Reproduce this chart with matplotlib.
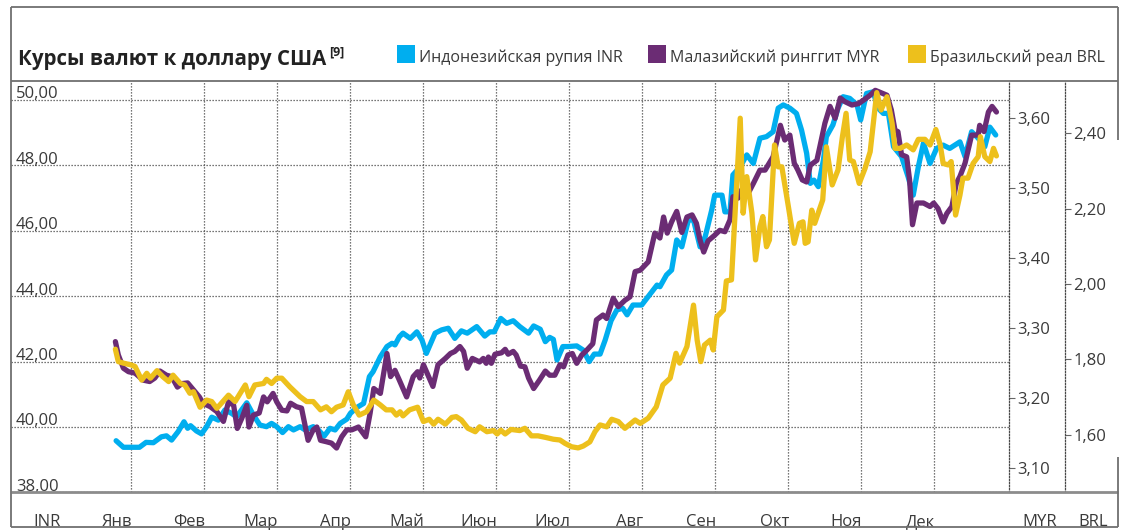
import matplotlib
matplotlib.use("Agg")
import matplotlib.pyplot as plt
from matplotlib.lines import Line2D
from matplotlib.patches import Rectangle
import matplotlib.transforms as mtransforms

plt.rcParams['font.family'] = ['Open Sans', 'DejaVu Sans']

# ---------------- data (x = month position, 0 = start of January) ----------------
months = ['Янв', 'Фев', 'Мар', 'Апр', 'Май', 'Июн', 'Июл', 'Авг', 'Сен', 'Окт', 'Ноя', 'Дек']
title = 'Курсы валют к доллару США'
legend_labels = ['Индонезийская рупия INR', 'Малазийский ринггит MYR', 'Бразильский реал BRL']

inr_ticks = [38, 40, 42, 44, 46, 48, 50]
myr_ticks = [3.10, 3.20, 3.30, 3.40, 3.50, 3.60]
brl_ticks = [1.60, 1.80, 2.00, 2.20, 2.40]

inr_t = [-0.20, -0.10, 0.12, 0.21, 0.31, 0.42, 0.49, 0.56, 0.65, 0.73,
         0.78, 0.82, 0.90, 0.97, 1.04, 1.11, 1.20, 1.29, 1.38, 1.45,
         1.59, 1.68, 1.77, 1.86, 1.93, 2.00, 2.08, 2.16, 2.23, 2.32,
         2.39, 2.50, 2.57, 2.65, 2.73, 2.80, 2.87, 2.96, 3.01, 3.10,
         3.19, 3.27, 3.32, 3.42, 3.51, 3.58, 3.62, 3.68, 3.73, 3.83,
         3.92, 3.99, 4.05, 4.17, 4.26, 4.35, 4.44, 4.53, 4.61, 4.74,
         4.85, 4.92, 4.98, 5.07, 5.15, 5.24, 5.33, 5.45, 5.52, 5.61,
         5.68, 5.74, 5.79, 5.84, 5.92, 5.99, 6.11, 6.20, 6.28, 6.35,
         6.43, 6.50, 6.58, 6.66, 6.74, 6.80, 6.88, 7.00, 7.21, 7.25,
         7.34, 7.41, 7.48, 7.55, 7.64, 7.71, 7.80, 7.87, 7.96, 8.00,
         8.10, 8.14, 8.21, 8.25, 8.35, 8.44, 8.53, 8.62, 8.71, 8.80,
         8.87, 8.94, 9.03, 9.12, 9.19, 9.26, 9.31, 9.36, 9.42, 9.49,
         9.53, 9.62, 9.69, 9.76, 9.85, 9.95, 10.00, 10.08, 10.17, 10.24,
         10.31, 10.38, 10.45, 10.56, 10.65, 10.72, 10.79, 10.86, 10.95, 11.04,
         11.13, 11.22, 11.36, 11.43, 11.52, 11.61, 11.70, 11.77, 11.85]
inr = [39.58, 39.38, 39.38, 39.53, 39.52, 39.70, 39.73, 39.60, 39.86, 40.16,
       39.96, 40.04, 39.88, 39.79, 40.01, 40.30, 40.21, 40.52, 40.42, 40.31,
       40.74, 40.37, 40.06, 40.01, 40.11, 40.01, 39.83, 40.01, 39.91, 40.01,
       39.91, 40.01, 39.91, 39.72, 39.96, 39.91, 40.11, 40.24, 40.42, 40.60,
       40.72, 41.54, 41.69, 42.15, 42.46, 42.56, 42.51, 42.76, 42.87, 42.71,
       42.91, 42.66, 42.25, 42.87, 42.97, 43.02, 42.71, 42.94, 42.87, 43.07,
       42.78, 42.91, 42.91, 43.32, 43.17, 43.25, 43.07, 42.87, 43.09, 42.99,
       42.61, 42.74, 42.68, 42.05, 42.46, 42.46, 42.48, 42.35, 42.00, 42.23,
       42.23, 42.66, 43.25, 43.58, 43.63, 43.43, 43.73, 43.73, 44.34, 44.29,
       44.65, 44.80, 45.72, 45.51, 46.33, 46.33, 45.51, 45.82, 46.64, 47.09,
       47.09, 46.58, 46.58, 47.71, 47.96, 48.32, 48.06, 48.83, 48.88, 49.03,
       49.75, 49.85, 49.75, 49.59, 49.08, 48.37, 47.45, 47.55, 47.35, 48.17,
       48.88, 49.24, 49.75, 50.10, 50.05, 49.85, 49.39, 50.20, 50.25, 49.75,
       49.59, 49.59, 48.57, 48.27, 47.65, 47.09, 47.96, 48.68, 48.06, 48.52,
       48.62, 48.52, 48.72, 48.27, 49.03, 48.83, 48.57, 49.17, 48.93]

myr_t = [-0.21, -0.17, -0.10, -0.03, 0.06, 0.17, 0.26, 0.33, 0.40, 0.49,
         0.56, 0.64, 0.70, 0.78, 0.86, 0.94, 0.99, 1.09, 1.18, 1.27,
         1.34, 1.41, 1.46, 1.52, 1.59, 1.62, 1.68, 1.76, 1.82, 1.87,
         1.95, 2.00, 2.07, 2.14, 2.19, 2.27, 2.34, 2.43, 2.50, 2.55,
         2.60, 2.68, 2.75, 2.82, 2.89, 2.96, 3.03, 3.12, 3.22, 3.28,
         3.33, 3.42, 3.45, 3.51, 3.56, 3.62, 3.68, 3.78, 3.87, 3.93,
         3.96, 4.01, 4.14, 4.21, 4.31, 4.38, 4.44, 4.51, 4.56, 4.61,
         4.68, 4.78, 4.83, 4.87, 4.90, 4.94, 4.99, 5.08, 5.13, 5.17,
         5.24, 5.28, 5.34, 5.40, 5.45, 5.52, 5.60, 5.68, 5.74, 5.81,
         5.88, 5.93, 5.99, 6.05, 6.11, 6.18, 6.25, 6.33, 6.38, 6.47,
         6.52, 6.58, 6.61, 6.68, 6.77, 6.84, 6.91, 6.98, 7.09, 7.18,
         7.25, 7.30, 7.35, 7.41, 7.48, 7.55, 7.62, 7.69, 7.75, 7.80,
         7.85, 7.91, 8.00, 8.07, 8.14, 8.21, 8.25, 8.32, 8.37, 8.43,
         8.46, 8.53, 8.62, 8.69, 8.73, 8.80, 8.85, 8.90, 8.96, 9.03,
         9.09, 9.14, 9.20, 9.26, 9.31, 9.40, 9.44, 9.51, 9.58, 9.65,
         9.72, 9.78, 9.88, 9.97, 10.04, 10.13, 10.20, 10.29, 10.36, 10.42,
         10.47, 10.51, 10.56, 10.63, 10.67, 10.71, 10.77, 10.86, 10.95, 11.00,
         11.06, 11.13, 11.18, 11.25, 11.31, 11.36, 11.43, 11.52, 11.61, 11.63,
         11.69, 11.75, 11.80, 11.86]
myr = [3.281, 3.262, 3.243, 3.238, 3.236, 3.226, 3.224, 3.229, 3.239, 3.233,
       3.231, 3.216, 3.221, 3.222, 3.212, 3.202, 3.193, 3.188, 3.181, 3.167,
       3.195, 3.190, 3.157, 3.171, 3.190, 3.159, 3.176, 3.179, 3.202, 3.195,
       3.207, 3.195, 3.183, 3.182, 3.193, 3.188, 3.186, 3.140, 3.155, 3.159,
       3.140, 3.138, 3.136, 3.129, 3.145, 3.155, 3.155, 3.159, 3.145, 3.179,
       3.214, 3.207, 3.226, 3.264, 3.231, 3.240, 3.226, 3.202, 3.231, 3.238,
       3.229, 3.248, 3.217, 3.248, 3.257, 3.264, 3.267, 3.274, 3.267, 3.243,
       3.257, 3.252, 3.257, 3.250, 3.259, 3.250, 3.263, 3.265, 3.270, 3.263,
       3.267, 3.262, 3.246, 3.245, 3.229, 3.214, 3.226, 3.239, 3.233, 3.233,
       3.248, 3.245, 3.262, 3.264, 3.250, 3.262, 3.269, 3.278, 3.312, 3.319,
       3.314, 3.333, 3.343, 3.331, 3.340, 3.345, 3.381, 3.383, 3.395, 3.436,
       3.429, 3.459, 3.436, 3.452, 3.467, 3.437, 3.459, 3.462, 3.450, 3.426,
       3.409, 3.425, 3.433, 3.440, 3.438, 3.455, 3.488, 3.486, 3.498, 3.500,
       3.493, 3.507, 3.526, 3.526, 3.533, 3.545, 3.567, 3.590, 3.569, 3.576,
       3.536, 3.526, 3.512, 3.509, 3.533, 3.540, 3.559, 3.593, 3.617, 3.600,
       3.629, 3.624, 3.619, 3.621, 3.626, 3.633, 3.640, 3.636, 3.633, 3.612,
       3.583, 3.581, 3.548, 3.545, 3.512, 3.448, 3.479, 3.479, 3.474, 3.479,
       3.471, 3.452, 3.464, 3.474, 3.507, 3.517, 3.536, 3.576, 3.576, 3.590,
       3.581, 3.609, 3.617, 3.609]

brl_t = [-0.21, -0.17, -0.10, 0.01, 0.06, 0.15, 0.22, 0.27, 0.36, 0.44,
         0.52, 0.58, 0.68, 0.74, 0.81, 0.86, 0.95, 1.04, 1.11, 1.18,
         1.34, 1.43, 1.57, 1.62, 1.70, 1.82, 1.86, 1.93, 2.00, 2.07,
         2.18, 2.32, 2.41, 2.50, 2.60, 2.68, 2.75, 2.82, 2.91, 2.98,
         3.05, 3.13, 3.23, 3.33, 3.42, 3.50, 3.58, 3.64, 3.69, 3.73,
         3.82, 3.93, 4.01, 4.09, 4.15, 4.21, 4.31, 4.40, 4.46, 4.53,
         4.62, 4.72, 4.78, 4.88, 4.97, 5.02, 5.07, 5.13, 5.21, 5.33,
         5.40, 5.49, 5.58, 5.68, 5.79, 5.88, 5.95, 6.04, 6.13, 6.20,
         6.29, 6.36, 6.43, 6.52, 6.59, 6.68, 6.77, 6.91, 6.98, 7.09,
         7.20, 7.29, 7.39, 7.47, 7.52, 7.62, 7.71, 7.76, 7.81, 7.86,
         7.94, 7.98, 8.03, 8.12, 8.16, 8.23, 8.35, 8.39, 8.44, 8.51,
         8.56, 8.62, 8.66, 8.71, 8.75, 8.82, 8.87, 8.92, 9.01, 9.09,
         9.16, 9.21, 9.24, 9.28, 9.33, 9.37, 9.48, 9.53, 9.61, 9.69,
         9.75, 9.80, 9.85, 9.90, 9.98, 10.06, 10.13, 10.22, 10.28, 10.36,
         10.43, 10.47, 10.54, 10.63, 10.72, 10.79, 10.88, 10.95, 11.03, 11.09,
         11.13, 11.20, 11.24, 11.30, 11.36, 11.40, 11.47, 11.54, 11.61, 11.64,
         11.70, 11.77, 11.82, 11.86]
brl = [1.827, 1.794, 1.790, 1.785, 1.781, 1.745, 1.763, 1.750, 1.770, 1.754,
       1.741, 1.758, 1.736, 1.732, 1.710, 1.714, 1.673, 1.692, 1.688, 1.670,
       1.705, 1.688, 1.732, 1.701, 1.732, 1.736, 1.747, 1.736, 1.750, 1.750,
       1.727, 1.701, 1.688, 1.688, 1.666, 1.674, 1.661, 1.673, 1.679, 1.714,
       1.679, 1.652, 1.661, 1.692, 1.679, 1.666, 1.666, 1.652, 1.661, 1.650,
       1.666, 1.673, 1.635, 1.641, 1.628, 1.641, 1.628, 1.646, 1.648, 1.639,
       1.617, 1.608, 1.621, 1.608, 1.611, 1.602, 1.612, 1.602, 1.614, 1.611,
       1.617, 1.597, 1.597, 1.593, 1.588, 1.586, 1.577, 1.568, 1.565, 1.570,
       1.581, 1.608, 1.626, 1.621, 1.641, 1.635, 1.617, 1.639, 1.630, 1.644,
       1.674, 1.732, 1.750, 1.816, 1.790, 1.834, 1.944, 1.851, 1.794, 1.838,
       1.851, 1.825, 1.913, 1.931, 2.008, 2.011, 2.440, 2.188, 2.285, 2.188,
       2.064, 2.152, 2.179, 2.099, 2.117, 2.369, 2.311, 2.311, 2.205, 2.108,
       2.161, 2.165, 2.108, 2.112, 2.196, 2.161, 2.223, 2.364, 2.263, 2.303,
       2.391, 2.453, 2.329, 2.325, 2.267, 2.307, 2.351, 2.508, 2.462, 2.497,
       2.427, 2.360, 2.360, 2.369, 2.356, 2.384, 2.384, 2.369, 2.410, 2.369,
       2.320, 2.316, 2.325, 2.183, 2.236, 2.281, 2.281, 2.320, 2.338, 2.391,
       2.338, 2.325, 2.360, 2.340]

# ---------------- styling ----------------
W, H = 1129, 531
C_INR = '#00AEEF'
C_MYR = '#6B2C74'
C_BRL = '#EDC01C'
TXT = '#3a3a3a'
FRAME = '#707070'
GRID = '#4a4a4a'
FS = 12
LW = 3.8

def fx(px):
    return px / W

def fy(py):
    return 1 - py / H

fig = plt.figure(figsize=(W / 100, H / 100), dpi=100)

# plot area in pixels
L, R, T, B = 11, 1009, 81, 492.4
ax = fig.add_axes([fx(L), fy(B), fx(R) - fx(L), fy(T) - fy(B)])
ax.set_xlim(-1.640, 12.032)
ax.set_ylim(38, 50.581)
for s in ax.spines.values():
    s.set_visible(False)
ax.set_xticks(range(12))
ax.set_yticks(inr_ticks)
ax.grid(True, linestyle=(0, (1, 1.4)), color=GRID, linewidth=0.9)
ax.tick_params(length=0, labelbottom=False, labelleft=False)
ax.patch.set_visible(False)

# INR labels sitting on the gridlines
lab_tr = mtransforms.offset_copy(mtransforms.blended_transform_factory(ax.transAxes, ax.transData),
                                 fig=fig, x=0, y=1.2, units='points')
for v in inr_ticks:
    ax.text((16 - L) / (R - L), v, f'{v:.2f}'.replace('.', ','), transform=lab_tr,
            ha='left', va='baseline', fontsize=FS, color=TXT)

ax.plot(inr_t, inr, color=C_INR, lw=LW, solid_joinstyle='round', solid_capstyle='round', zorder=3)

# MYR axis
ax2 = ax.twinx()
ax2.set_ylim(3.0656, 3.6533)
for k, s in ax2.spines.items():
    s.set_visible(k == 'right')
ax2.spines['right'].set_linestyle((0, (1, 1.4)))
ax2.spines['right'].set_color(GRID)
ax2.spines['right'].set_linewidth(0.9)
ax2.set_yticks(myr_ticks)
ax2.set_yticklabels([f'{v:.2f}'.replace('.', ',') for v in myr_ticks])
ax2.tick_params(axis='y', direction='out', length=4.5, width=0.8, color='#666666',
                pad=1.5, labelsize=FS, labelcolor=TXT)
ax2.plot(myr_t, myr, color=C_MYR, lw=LW, solid_joinstyle='round', solid_capstyle='round')

# BRL axis
ax3 = ax.twinx()
ax3.set_ylim(1.4469, 2.5388)
for k, s in ax3.spines.items():
    s.set_visible(k == 'right')
ax3.spines['right'].set_position(('axes', (1065 - L) / (R - L)))
ax3.spines['right'].set_linestyle((0, (1, 1.4)))
ax3.spines['right'].set_color(GRID)
ax3.spines['right'].set_linewidth(0.9)
ax3.set_yticks(brl_ticks)
ax3.set_yticklabels([f'{v:.2f}'.replace('.', ',') for v in brl_ticks])
ax3.tick_params(axis='y', direction='out', length=4.5, width=0.8, color='#666666',
                pad=1.5, labelsize=FS, labelcolor=TXT)
ax3.plot(brl_t, brl, color=C_BRL, lw=LW, solid_joinstyle='round', solid_capstyle='round')

# month labels along the bottom band
mtr = mtransforms.blended_transform_factory(ax.transData, fig.transFigure)
for k, m in enumerate(months):
    ax.text(k + 0.02, fy(526), m, transform=mtr, ha='right', va='baseline',
            fontsize=FS, color=TXT, clip_on=False)
fig.text(fx(33), fy(526), 'INR', ha='left', va='baseline', fontsize=FS, color=TXT)
fig.text(fx(1057), fy(526), 'MYR', ha='right', va='baseline', fontsize=FS, color=TXT)
fig.text(fx(1108), fy(526), 'BRL', ha='right', va='baseline', fontsize=FS, color=TXT)

# frame lines
def hline(y, x0, x1, lw=1.3, color=FRAME):
    fig.add_artist(Line2D([fx(x0), fx(x1)], [fy(y), fy(y)], transform=fig.transFigure,
                          color=color, lw=lw, solid_capstyle='butt'))

def vline(x, y0, y1, lw=1.3, color=FRAME):
    fig.add_artist(Line2D([fx(x), fx(x)], [fy(y0), fy(y1)], transform=fig.transFigure,
                          color=color, lw=lw, solid_capstyle='butt'))

hline(7, 11, 1118)
hline(81, 11, 1118)
hline(B, 11, 1118, lw=2.0, color='#8c8c8c')
hline(527, 11, 1118)
vline(11, 7, 527)
vline(1118, 7, 140)
vline(1118, 457, 527)

# title
t_obj = fig.text(fx(18), fy(65), title, ha='left', va='baseline', fontsize=14.8,
                 fontweight='bold', color='#222222')
fig.canvas.draw()
bb = t_obj.get_window_extent()
fig.text(bb.x1 / W + fx(3), fy(55), '[9]', ha='left', va='baseline', fontsize=9,
         fontweight='bold', color='#222222')

# legend
leg_sq = [397, 648, 908]
for x0, lab, col in zip(leg_sq, legend_labels, [C_INR, C_MYR, C_BRL]):
    fig.add_artist(Rectangle((fx(x0), fy(63)), fx(18), 18 / H, transform=fig.transFigure,
                             facecolor=col, edgecolor='none'))
    fig.text(fx(x0 + 22), fy(62), lab, ha='left', va='baseline', fontsize=11.5, color=TXT)

fig.savefig('out.png', dpi=100)
